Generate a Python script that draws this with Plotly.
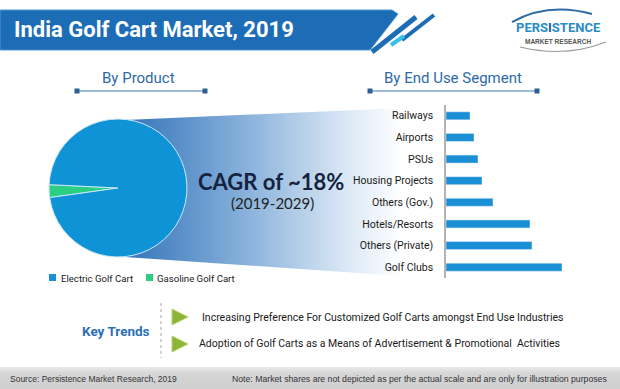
import base64
import plotly.graph_objects as go

W, H = 620, 389

# ---------------- data ----------------
product_labels = ["Gasoline Golf Cart", "Electric Golf Cart"]
product_shares = [3, 97]
product_colors = ["#2bcf84", "#0f93d7"]

segments = ["Railways", "Airports", "PSUs", "Housing Projects", "Others (Gov.)",
            "Hotels/Resorts", "Others (Private)", "Golf Clubs"]
segment_values = [24, 28, 32, 36, 47, 84, 86, 116]

key_trends = [
    "Increasing Preference For Customized Golf Carts amongst End Use Industries",
    "Adoption of Golf Carts as a Means of Advertisement & Promotional  Activities",
]

title_text = "India Golf Cart Market, 2019"
cagr_text = "CAGR of ~18%"
cagr_period = "(2019-2029)"
source_text = "Source: Persistence Market Research, 2019"
note_text = "Note: Market shares are not depicted as per the actual scale and are only for illustration purposes"

NARROW = "Roboto, Liberation Sans, sans-serif"
CAL = "Lato, Open Sans, sans-serif"
SMALL = "Liberation Sans, Arial, sans-serif"


def px(x):
    return x / W


def py(y):
    return 1 - y / H


def path(points, close=True):
    s = "M " + " L ".join(f"{px(x):.5f},{py(y):.5f}" for x, y in points)
    return s + (" Z" if close else "")


fig = go.Figure()

# pie
fig.add_trace(go.Pie(
    labels=product_labels, values=product_shares, sort=False,
    direction="clockwise", rotation=262,
    marker=dict(colors=product_colors, line=dict(color="#cbe7f7", width=1)),
    textinfo="none", hoverinfo="label+percent", showlegend=False,
    domain=dict(x=[px(49), px(187)], y=[py(257), py(119)]),
))

# bars
fig.add_trace(go.Bar(
    y=segments, x=segment_values, orientation="h",
    marker=dict(color="#1a8fd6"), width=0.37, showlegend=False,
    xaxis="x", yaxis="y",
))

# gradient funnel + footer band (decorative background)
svg = ('<svg xmlns="http://www.w3.org/2000/svg" width="620" height="389" viewBox="0 0 620 389" '
       'preserveAspectRatio="none"><defs><linearGradient id="g" x1="125" y1="0" x2="402" y2="0" '
       'gradientUnits="userSpaceOnUse"><stop offset="0" stop-color="#3374ba"/>'
       '<stop offset="0.45" stop-color="#8bb3dc"/><stop offset="0.8" stop-color="#dbe8f5"/>'
       '<stop offset="1" stop-color="#ffffff"/></linearGradient>'
       '<linearGradient id="f" x1="0" y1="367" x2="0" y2="389" gradientUnits="userSpaceOnUse">'
       '<stop offset="0" stop-color="#e9e9e9"/><stop offset="0.3" stop-color="#d6d6d6"/>'
       '<stop offset="1" stop-color="#cfcfcf"/></linearGradient></defs>'
       '<polygon points="125,120 402,108 402,276 125,257" fill="url(#g)"/>'
       '<rect x="0" y="367" width="620" height="22" fill="url(#f)"/></svg>')
fig.add_layout_image(dict(
    source="data:image/svg+xml;base64," + base64.b64encode(svg.encode()).decode(),
    xref="paper", yref="paper", x=0, y=1, sizex=1, sizey=1,
    xanchor="left", yanchor="top", sizing="stretch", layer="below",
))

shapes = []
# title bar
bar_pts = [(0, 10), (392, 10), (398, 14), (370, 50), (0, 50)]
shapes.append(dict(type="path", xref="paper", yref="paper", path=path(bar_pts),
                   fillcolor="#1c6db6", line=dict(color="#4f95d3", width=1), layer="above"))
# stripes
shapes.append(dict(type="line", xref="paper", yref="paper", x0=px(372), y0=py(52), x1=px(416), y1=py(17),
                   line=dict(color="#1c6db6", width=5)))
shapes.append(dict(type="line", xref="paper", yref="paper", x0=px(402), y0=py(40), x1=px(434), y1=py(15),
                   line=dict(color="#1c6db6", width=4)))
shapes.append(dict(type="line", xref="paper", yref="paper", x0=px(391), y0=py(45), x1=px(404), y1=py(36),
                   line=dict(color="#39c0ea", width=4)))

# section header underlines
for x0, x1 in [(77, 205), (370, 537)]:
    shapes.append(dict(type="line", xref="paper", yref="paper", x0=px(x0), y0=py(91), x1=px(x1), y1=py(91),
                       line=dict(color="#7aa6cf", width=1.5)))
    for xc in (x0, x1):
        shapes.append(dict(type="rect", xref="paper", yref="paper", x0=px(xc - 2.5), x1=px(xc + 2.5),
                           y0=py(93.5), y1=py(88.5), fillcolor="#2d5f92", line=dict(width=0)))

# pie legend squares
for x0, col in [(49, "#1a8fd6"), (146, "#2bcf84")]:
    shapes.append(dict(type="rect", xref="paper", yref="paper", x0=px(x0), x1=px(x0 + 7),
                       y0=py(281), y1=py(274), fillcolor=col, line=dict(width=0)))

# key trends divider + arrows
shapes.append(dict(type="line", xref="paper", yref="paper", x0=px(161), y0=py(303), x1=px(161), y1=py(358),
                   line=dict(color="#c4c4c4", width=1.5, dash="dot")))
for yc in (317, 344):
    shapes.append(dict(type="path", xref="paper", yref="paper",
                       path=path([(172, yc - 8), (188, yc), (172, yc + 8)]),
                       fillcolor="#8db43a", line=dict(color="#b6d36a", width=1)))

# logo swooshes
shapes.append(dict(type="path", xref="paper", yref="paper",
                   path=f"M {px(512):.5f},{py(22):.5f} Q {px(548):.5f},{py(2):.5f} {px(592):.5f},{py(14):.5f}",
                   line=dict(color="#2f6ea5", width=2)))
shapes.append(dict(type="path", xref="paper", yref="paper",
                   path=f"M {px(520):.5f},{py(47):.5f} Q {px(565):.5f},{py(58):.5f} {px(606):.5f},{py(42):.5f}",
                   line=dict(color="#9a9a9a", width=1.2)))

ann = []


def text(x, y, s, size, color="#1a1a1a", family=NARROW, xanchor="center", bold=False):
    ann.append(dict(x=px(x), y=py(y), xref="paper", yref="paper", text=(f"<b>{s}</b>" if bold else s),
                    showarrow=False, xanchor=xanchor, yanchor="middle",
                    font=dict(size=size, color=color, family=family)))


text(12, 30, title_text, 22, "#ffffff", bold=True, xanchor="left")
text(138, 78, "By Product", 15, "#2e6aa6")
text(453, 78, "By End Use Segment", 15, "#2e6aa6")
text(271, 182, cagr_text, 22, "#15233f", family=CAL, bold=True)
text(272, 203, cagr_period, 15, "#222222", family=CAL)
text(59, 278, "Electric Golf Cart", 9.6, xanchor="left")
text(155, 278, "Gasoline Golf Cart", 9.6, xanchor="left")
text(152, 331, "Key Trends", 13.5, "#2c6fb7", bold=True, xanchor="right")
text(200, 317, key_trends[0], 10.5, xanchor="left")
text(197, 343, key_trends[1], 10.5, xanchor="left")
text(8, 379, source_text, 8.5, "#333333", family=SMALL, xanchor="left")
text(230, 379, note_text, 8.7, "#333333", family=SMALL, xanchor="left")
text(558, 27, "PERS<span style='color:#1c5f9a'>I</span>STENCE", 13, "#2a8cc6", bold=True)
text(558, 41, "MARKET RESEARCH", 6.5, "#555555", family=SMALL, bold=True)

fig.update_layout(
    width=W, height=H, margin=dict(l=0, r=0, t=0, b=0),
    paper_bgcolor="white", plot_bgcolor="rgba(0,0,0,0)",
    shapes=shapes, annotations=ann, showlegend=False,
    xaxis=dict(domain=[px(446), px(588)], range=[0, 142], visible=False, fixedrange=True),
    yaxis=dict(domain=[py(278), py(105)], autorange="reversed", showline=True,
               linecolor="#b3b3b3", linewidth=1.5, showgrid=False, ticks="",
               ticklabelstandoff=9,
               tickfont=dict(size=10.5, color="#1a1a1a", family=NARROW), fixedrange=True),
)

fig.write_html("out.html", config={"displayModeBar": False},
               post_script="document.body.style.margin='0';document.body.style.overflow='hidden';")
